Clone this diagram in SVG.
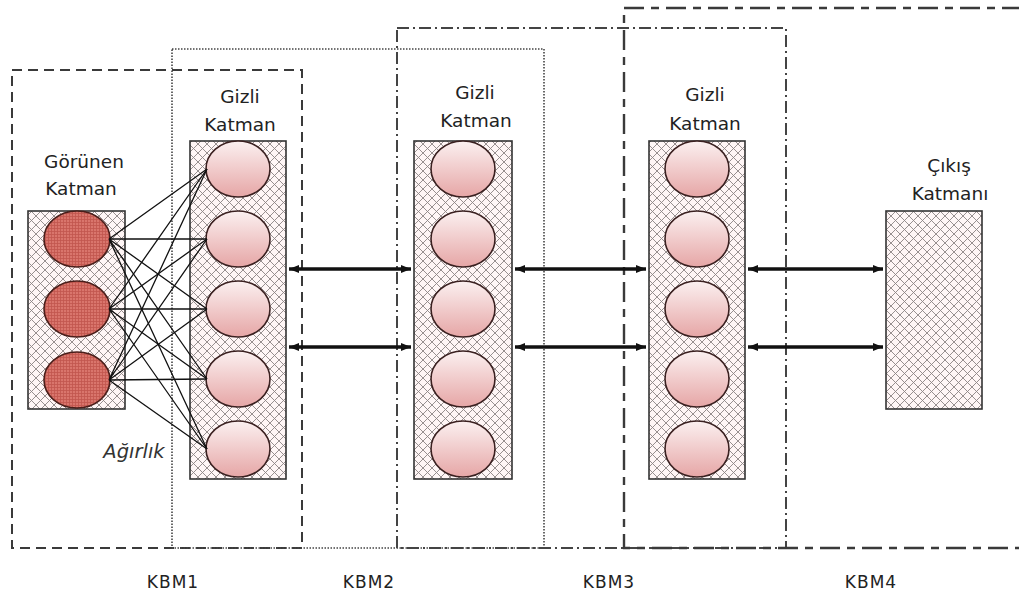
<svg xmlns="http://www.w3.org/2000/svg" width="1019" height="599" viewBox="0 0 1019 599">
  <style>
    .frame { fill: none; }
    .kbm1 { stroke: #3a3a3a; stroke-width: 2; stroke-dasharray: 10 6; }
    .kbm2 { stroke: #444; stroke-width: 1.6; stroke-dasharray: 1.5 1.5; }
    .kbm3 { stroke: #444; stroke-width: 2; stroke-dasharray: 12 4 2 4; }
    .kbm4 { stroke: #3a3a3a; stroke-width: 2.4; stroke-dasharray: 20 7 8 7; }
    .layer { fill: url(#cross); stroke: #333; stroke-width: 1.6; }
    .hid { fill: url(#hidGrad); stroke: #3a2020; stroke-width: 1.6; }
    .vis { fill: url(#visGrid); stroke: #4a1e1a; stroke-width: 1.6; }
    .w { stroke: #111; stroke-width: 1.3; fill: none; }
    .link { stroke: #111; stroke-width: 3.4; fill: none; marker-start: url(#headL); marker-end: url(#headR); }
    .lbl { font-family: "DejaVu Sans", "Liberation Sans", sans-serif; font-size: 18.5px; fill: #222; text-anchor: middle; }
    .kbm { font-family: "DejaVu Sans", "Liberation Sans", sans-serif; font-size: 17px; letter-spacing: 1px; fill: #222; text-anchor: middle; }
    .ital { font-family: "DejaVu Sans", sans-serif; font-style: italic; font-size: 19.5px; fill: #333; text-anchor: middle; }
  </style>
  <defs>
    <pattern id="cross" patternUnits="userSpaceOnUse" width="9" height="9">
      <rect width="9" height="9" fill="#fff6f6"/>
      <path d="M0 0L9 9M9 0L0 9" stroke="#8c8484" stroke-width="0.9"/>
    </pattern>
    <pattern id="visGrid" patternUnits="userSpaceOnUse" width="3" height="3">
      <rect width="3" height="3" fill="#d9756c"/>
      <path d="M0 0.5H3M0.5 0V3" stroke="#c2564e" stroke-width="0.8"/>
    </pattern>
    <linearGradient id="hidGrad" x1="0" y1="0" x2="0" y2="1">
      <stop offset="0" stop-color="#fbf0f0"/>
      <stop offset="1" stop-color="#e6a6a6"/>
    </linearGradient>
    <marker id="headR" viewBox="0 0 10 10" refX="10" refY="5" markerWidth="3" markerHeight="3" orient="auto">
      <path d="M0 1L10 5L0 9Z" fill="#111"/>
    </marker>
    <marker id="headL" viewBox="0 0 10 10" refX="0" refY="5" markerWidth="3" markerHeight="3" orient="auto">
      <path d="M10 1L0 5L10 9Z" fill="#111"/>
    </marker>
  </defs>

  <rect width="1019" height="599" fill="#ffffff"/>

  <!-- machine frames -->
  <g id="frames">
    <rect class="frame kbm1" x="12" y="70" width="290" height="478"/>
    <rect class="frame kbm2" x="172" y="49" width="372" height="499"/>
    <rect class="frame kbm3" x="397" y="28" width="389" height="520"/>
    <path class="frame kbm4" d="M1022 8H624V548H1022"/>
  </g>

  <!-- visible layer -->
  <g id="visible">
    <rect class="layer" x="28" y="211" width="97" height="198"/>
    <ellipse class="vis" cx="77" cy="239" rx="33" ry="28"/>
    <ellipse class="vis" cx="77" cy="309" rx="33" ry="28"/>
    <ellipse class="vis" cx="77" cy="380" rx="33" ry="28"/>
    <text class="lbl" x="84" y="168">Görünen</text>
    <text class="lbl" x="81" y="195">Katman</text>
  </g>

  <!-- hidden layer 1 -->
  <g id="hidden1">
    <rect class="layer" x="190" y="141" width="96" height="338"/>
    <ellipse class="hid" cx="238" cy="169" rx="32" ry="28"/>
    <ellipse class="hid" cx="238" cy="239" rx="32" ry="28"/>
    <ellipse class="hid" cx="238" cy="309" rx="32" ry="28"/>
    <ellipse class="hid" cx="238" cy="379" rx="32" ry="28"/>
    <ellipse class="hid" cx="238" cy="449" rx="32" ry="28"/>
    <text class="lbl" x="240" y="103">Gizli</text>
    <text class="lbl" x="240" y="131">Katman</text>
  </g>

  <!-- hidden layer 2 -->
  <g id="hidden2">
    <rect class="layer" x="414" y="141" width="98" height="338"/>
    <ellipse class="hid" cx="463" cy="169" rx="32" ry="28"/>
    <ellipse class="hid" cx="463" cy="239" rx="32" ry="28"/>
    <ellipse class="hid" cx="463" cy="309" rx="32" ry="28"/>
    <ellipse class="hid" cx="463" cy="379" rx="32" ry="28"/>
    <ellipse class="hid" cx="463" cy="449" rx="32" ry="28"/>
    <text class="lbl" x="475" y="99">Gizli</text>
    <text class="lbl" x="476" y="127">Katman</text>
  </g>

  <!-- hidden layer 3 -->
  <g id="hidden3">
    <rect class="layer" x="649" y="141" width="96" height="338"/>
    <ellipse class="hid" cx="697" cy="169" rx="32" ry="28"/>
    <ellipse class="hid" cx="697" cy="239" rx="32" ry="28"/>
    <ellipse class="hid" cx="697" cy="309" rx="32" ry="28"/>
    <ellipse class="hid" cx="697" cy="379" rx="32" ry="28"/>
    <ellipse class="hid" cx="697" cy="449" rx="32" ry="28"/>
    <text class="lbl" x="705" y="101">Gizli</text>
    <text class="lbl" x="705" y="130">Katman</text>
  </g>

  <!-- output layer -->
  <g id="output">
    <rect class="layer" x="886" y="211" width="96" height="198"/>
    <text class="lbl" x="949" y="172">Çıkış</text>
    <text class="lbl" x="950" y="200">Katmanı</text>
  </g>

  <!-- connectors: full weight mesh and bidirectional links -->
  <g id="connectors">
    <g id="weights">
      <path class="w" d="M109 239L207 169M109 239L207 239M109 239L207 309M109 239L207 379M109 239L207 449"/>
      <path class="w" d="M109 309L207 169M109 309L207 239M109 309L207 309M109 309L207 379M109 309L207 449"/>
      <path class="w" d="M109 380L207 169M109 380L207 239M109 380L207 309M109 380L207 379M109 380L207 449"/>
    </g>
    <path class="link" d="M289 269H411"/>
    <path class="link" d="M289 347H411"/>
    <path class="link" d="M515 269H646"/>
    <path class="link" d="M515 347H646"/>
    <path class="link" d="M748 269H883"/>
    <path class="link" d="M748 347H883"/>
  </g>

  <g id="weight-label">
    <text class="ital" x="134" y="458">Ağırlık</text>
  </g>

  <g id="machine-labels">
    <text class="kbm" x="173" y="588">KBM1</text>
    <text class="kbm" x="369" y="588">KBM2</text>
    <text class="kbm" x="609" y="588">KBM3</text>
    <text class="kbm" x="871" y="588">KBM4</text>
  </g>
</svg>
